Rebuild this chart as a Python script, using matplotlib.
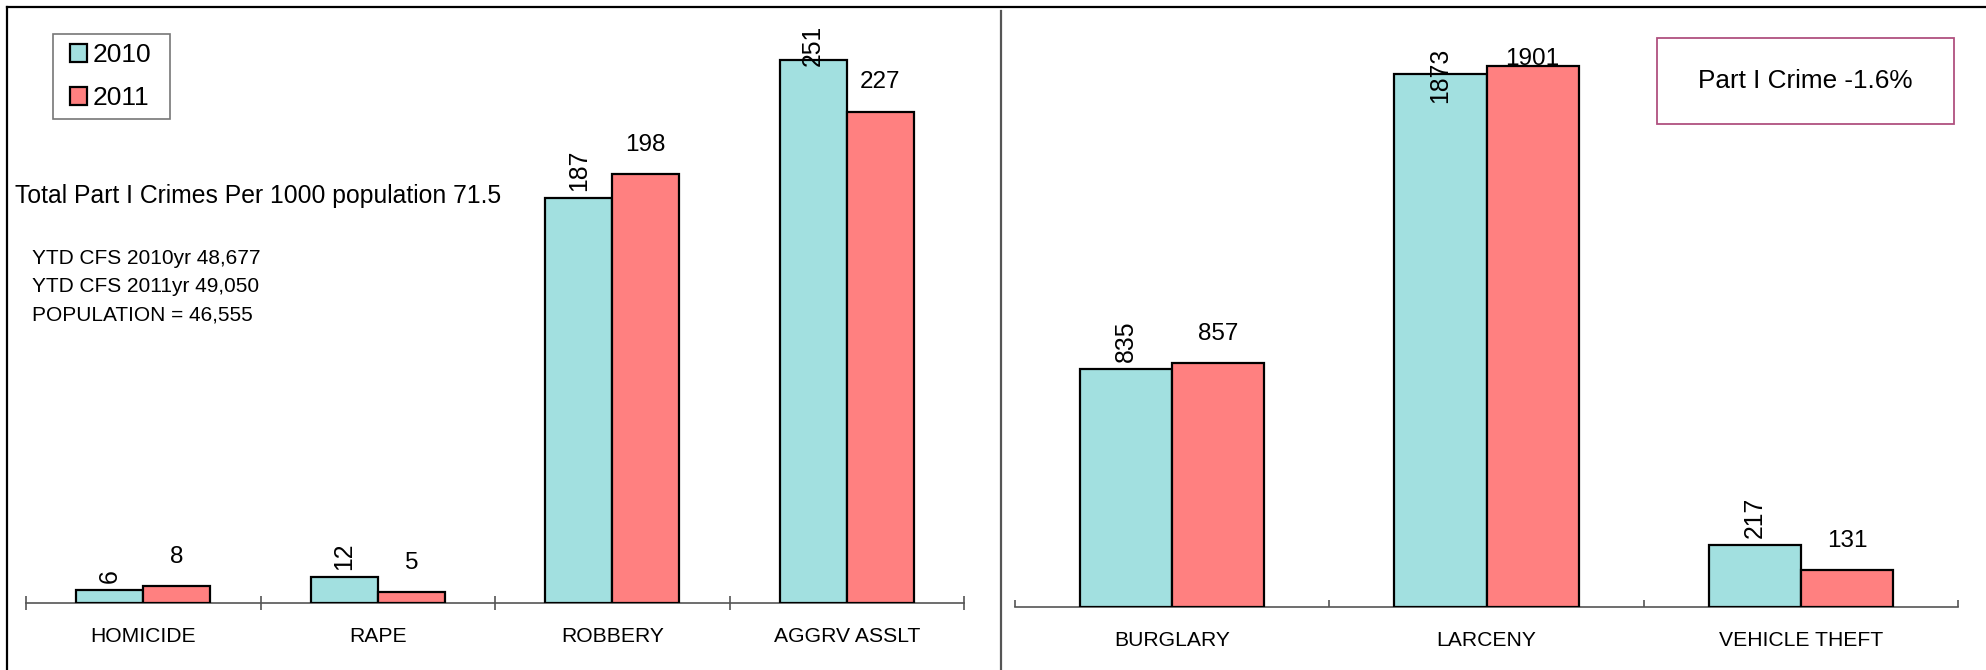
import numpy as np
import matplotlib
matplotlib.use('Agg')
import matplotlib.pyplot as plt
from matplotlib.patches import Rectangle, Patch
from matplotlib.lines import Line2D

plt.rcParams['font.family'] = ['Liberation Sans', 'DejaVu Sans']

# data
violent = ['HOMICIDE', 'RAPE', 'ROBBERY', 'AGGRV ASSLT']
violent_2010 = [6, 12, 187, 251]
violent_2011 = [8, 5, 198, 227]

property_ = ['BURGLARY', 'LARCENY', 'VEHICLE THEFT']
property_2010 = [835, 1873, 217]
property_2011 = [857, 1901, 131]

years = ['2010', '2011']
notes = ['YTD CFS 2010yr 48,677', 'YTD CFS 2011yr 49,050', 'POPULATION = 46,555']
rate_text = 'Total Part I Crimes Per 1000 population 71.5'
change_text = 'Part I Crime -1.6%'

C10 = '#a2e0e0'
C11 = '#ff8080'
W, H = 1986, 670
DPI = 100

fig = plt.figure(figsize=(W / DPI, H / DPI), dpi=DPI)


def fx(px):
    return px / W


def fy(py):
    return 1 - py / H


def panel(rect, cats, v10, v11, ymax, bw, tick_dir, tick_len, cap_px):
    ax = fig.add_axes(rect)
    n = len(cats)
    x = np.arange(n)
    ax.bar(x - bw / 2, v10, bw, color=C10, edgecolor='black', linewidth=1.6, zorder=3)
    ax.bar(x + bw / 2, v11, bw, color=C11, edgecolor='black', linewidth=1.6, zorder=3)
    ax.set_xlim(-0.5, n - 0.5)
    ax.set_ylim(0, ymax)
    for s in ['top', 'right', 'left']:
        ax.spines[s].set_visible(False)
    ax.spines['bottom'].set_color('#555555')
    ax.spines['bottom'].set_linewidth(1.2)
    ax.set_yticks([])
    ax.set_xticks(np.arange(n + 1) - 0.5)
    ax.set_xticklabels([])
    ax.tick_params(axis='x', which='major', direction=tick_dir, length=tick_len,
                   width=1.2, color='#555555')
    ax.set_xticks(x, minor=True)
    ax.set_xticklabels(cats, minor=True, fontsize=15.2)
    ax.tick_params(axis='x', which='minor', length=0, pad=17)
    labels = []
    for i in range(n):
        t1 = ax.annotate(str(v10[i]), (x[i] - bw / 2, v10[i]), xytext=(0, 5),
                         textcoords='offset points', rotation=90,
                         ha='center', va='bottom', fontsize=17.8)
        t2 = ax.annotate(str(v11[i]), (x[i] + bw / 2, v11[i]), xytext=(0, 13),
                         textcoords='offset points',
                         ha='center', va='bottom', fontsize=17.5)
        labels += [t1, t2]
    return ax, labels, cap_px


pl = panel([fx(26), fy(603), fx(964 - 26), (603 - 10) / H],
           violent, violent_2010, violent_2011, 593 / 2.165, 0.286, 'inout', 9.5, 25)
pr = panel([fx(1015), fy(607), fx(1958 - 1015), (607 - 10) / H],
           property_, property_2010, property_2011, 597 / 0.2846, 0.293, 'in', 5, 48)

# keep labels inside the plot area (push down when they run past the top)
fig.canvas.draw()
r = fig.canvas.get_renderer()
for ax, labels, cap_px in [pl, pr]:
    cap = H - cap_px
    for t in labels:
        bb = t.get_window_extent(r)
        if bb.y1 > cap:
            ox, oy = t.xyann
            t.xyann = (ox, oy - (bb.y1 - cap) * 72 / DPI)

# legend (frame drawn separately)
handles = [Patch(facecolor=C10, edgecolor='black', linewidth=1.6),
           Patch(facecolor=C11, edgecolor='black', linewidth=1.6)]
fig.legend(handles, years, loc='upper left', bbox_to_anchor=(fx(70), fy(43)),
           fontsize=19, frameon=False,
           handlelength=0.65, handleheight=0.65, handletextpad=0.2,
           labelspacing=0.72, borderpad=0, borderaxespad=0)
fig.patches.append(Rectangle((fx(53), fy(119)), fx(170 - 53), (119 - 34) / H,
                             transform=fig.transFigure, fill=False,
                             edgecolor='#777777', linewidth=1.2))

# annotations
fig.text(fx(15), fy(196), rate_text, fontsize=17.8, va='center', ha='left')
for i, s in enumerate(notes):
    fig.text(fx(32), fy(259 + i * 28), s, fontsize=15, va='center', ha='left')

fig.patches.append(Rectangle((fx(1657), fy(124)), fx(1954 - 1657), (124 - 38) / H,
                             transform=fig.transFigure, fill=False,
                             edgecolor='#b0507f', linewidth=1.3))
fig.text(fx(1805), fy(81), change_text, fontsize=18.8, ha='center', va='center')

# outer frame and divider
fig.lines.append(Line2D([fx(7), 1], [fy(7), fy(7)], transform=fig.transFigure,
                        color='black', linewidth=1.6))
fig.lines.append(Line2D([fx(7), fx(7)], [0, fy(7)], transform=fig.transFigure,
                        color='black', linewidth=1.6))
fig.lines.append(Line2D([fx(1001), fx(1001)], [0, fy(11)], transform=fig.transFigure,
                        color='#555555', linewidth=1.6))

fig.savefig('out.png', dpi=DPI)
